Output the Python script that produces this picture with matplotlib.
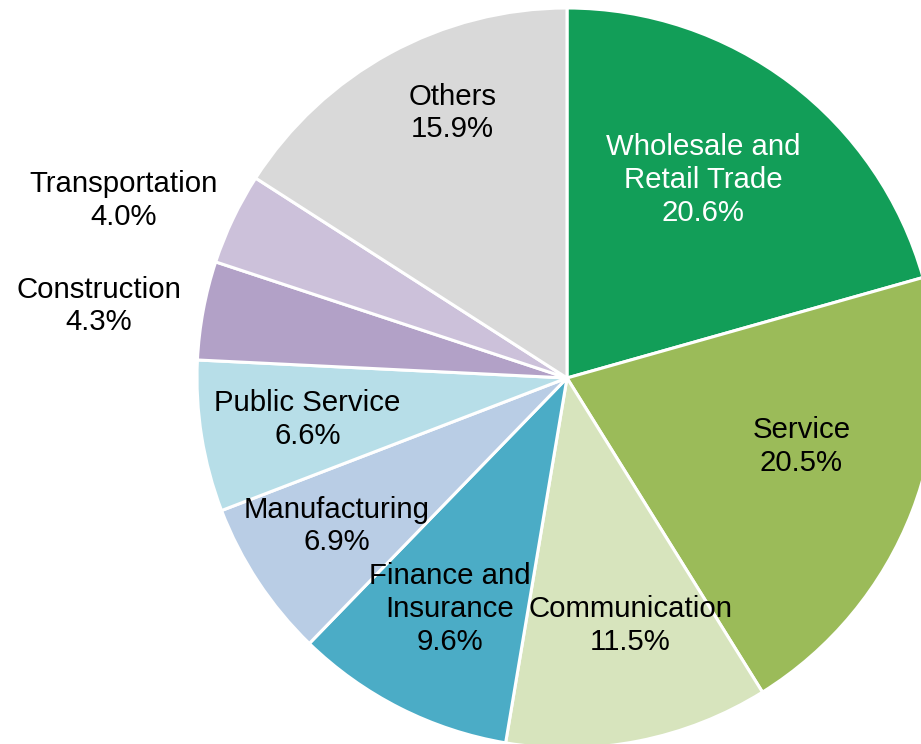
import matplotlib
matplotlib.use("Agg")
import matplotlib.pyplot as plt
import numpy as np

plt.rcParams['font.family'] = ['Liberation Sans', 'DejaVu Sans']

labels = ['Wholesale and\nRetail Trade', 'Service', 'Communication', 'Finance and\nInsurance',
          'Manufacturing', 'Public Service', 'Construction', 'Transportation', 'Others']
shares = [20.6, 20.5, 11.5, 9.6, 6.9, 6.6, 4.3, 4.0, 15.9]
colors = ['#129E58', '#9BBB59', '#D7E4BD', '#4BACC6', '#B9CDE5',
          '#B7DEE8', '#B2A1C7', '#CCC1DA', '#D9D9D9']
# label placement: radial distance (fraction of radius) and angle nudge (deg)
label_dist = [0.65, 0.66, 0.69, 0.70, 0.74, 0.71, 1.28, 1.29, 0.78]
label_nudge = [2.6, 4.8, 3.2, 0.0, -0.7, 0.0, 1.8, 3.7, -5.3]
text_colors = ['white'] + ['black'] * 8

fig = plt.figure(figsize=(9.21, 7.44), dpi=100)
ax = fig.add_axes([0, 0, 1, 1])

wedges, _ = ax.pie(shares, colors=colors, startangle=90, counterclock=False,
                   wedgeprops=dict(edgecolor='white', linewidth=2.2), radius=1.0)

for w, lab, val, d, nd, tc in zip(wedges, labels, shares, label_dist, label_nudge, text_colors):
    ang = np.deg2rad((w.theta1 + w.theta2) / 2 + nd)
    ax.text(d * np.cos(ang), d * np.sin(ang), f'{lab}\n{val:.1f}%',
            ha='center', va='center', fontsize=21.2, color=tc, linespacing=1.22)

# place pie center at (567, 378) px with radius 370 px
r_px = 370
ax.set_xlim(-567 / r_px, (921 - 567) / r_px)
ax.set_ylim(-(744 - 378) / r_px, 378 / r_px)
ax.set_aspect('auto')
ax.axis('off')

fig.savefig('out.png', dpi=100)
